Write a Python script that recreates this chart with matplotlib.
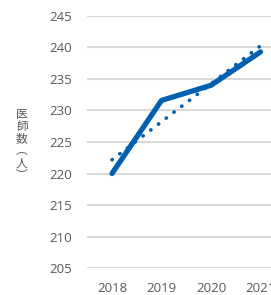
import matplotlib
matplotlib.use("Agg")
import matplotlib.pyplot as plt
import numpy as np

# data
years = ["2018", "2019", "2020", "2021"]
doctors = [220.0, 231.6, 234.0, 239.3]
y_ticks = [205, 210, 215, 220, 225, 230, 235, 240, 245]
y_label = "医師数（人）"

blue = "#0060b0"
gray = "#595959"

plt.rcParams['font.family'] = ['Open Sans', 'Noto Sans CJK JP', 'DejaVu Sans']

fig = plt.figure(figsize=(2.71, 2.95), dpi=100)
ax = fig.add_axes([0.322, 0.0915, 0.7306, 0.8543])

xs = np.arange(len(years))

# horizontal gridlines
for t in y_ticks:
    ax.axhline(t, color="#d9d9d9", lw=1.5, zorder=0)

# linear trend line (least squares on the series)
k, b = np.polyfit(xs, doctors, 1)
ax.plot(xs, k * xs + b, color=blue, lw=2.6, linestyle=(0, (0.1, 2.6)),
        dash_capstyle="round", zorder=2)

ax.plot(xs, doctors, color=blue, lw=3.8, solid_capstyle="round",
        solid_joinstyle="round", zorder=3)

ax.set_xlim(-0.5, 3.5)
ax.set_ylim(205, 245)
ax.set_xticks(xs)
ax.set_xticklabels(years)
ax.set_yticks(y_ticks)
ax.tick_params(length=0, labelsize=9.5, labelcolor=gray)
ax.tick_params(axis="x", pad=10)
ax.tick_params(axis="y", pad=11)
for s in ax.spines.values():
    s.set_visible(False)

fig.text(0.081, 0.51, "\n".join(["医", "師", "数", "︵", "人", "︶"]),
         family=['Noto Sans CJK JP', 'DejaVu Sans'], fontsize=8.5, color=gray,
         ha="center", va="center", linespacing=0.92)

fig.savefig("out.png", dpi=100)
